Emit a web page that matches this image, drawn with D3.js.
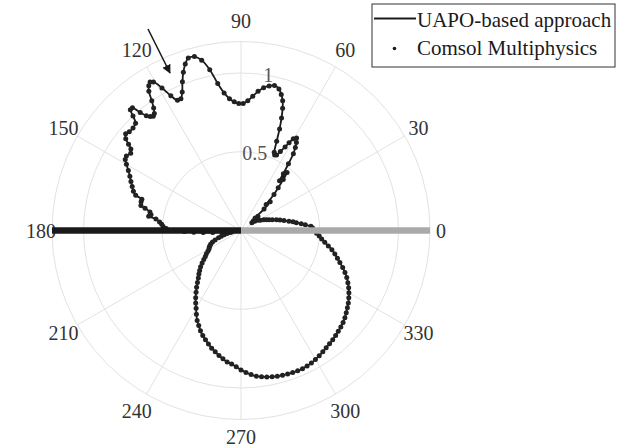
<!DOCTYPE html>
<html>
<head>
<meta charset="utf-8">
<script src="https://cdn.jsdelivr.net/npm/d3@7"></script>
<style>
  body { margin: 0; background: #fff; }
  text { font-family: "Liberation Serif", "Times New Roman", serif; }
</style>
</head>
<body>
<div id="polar"></div>
<script>
// angle (deg) and normalized amplitude
const thetaDeg = [
  0, 2, 3.5, 5, 6.5, 8, 9.5, 11, 13, 15, 17, 19, 21, 23, 25, 28, 31, 34, 36, 38,
  40, 41.5, 43, 44.5, 46, 47.5, 49, 50.3, 51.5, 52.3, 53.3, 54.6, 55.7, 56.8, 57.8, 59,
  60.3, 61.3, 62.2, 63.5, 64.8, 66, 67, 68.2, 69.2, 70.2, 71.2, 72.2, 73.5, 75, 77, 79,
  81, 83, 85, 87, 89, 91, 93, 95, 97, 99, 101, 103, 105, 107, 108.5, 110, 111.5, 113,
  114.5, 116, 117.5, 119, 120.5, 121.5, 122.5, 123.5, 124.5, 125.5, 126.5, 127.5, 128.5,
  129.5, 130.5, 131.5, 132.5, 133.3, 134.5, 136.5, 138.5, 140, 141.5, 142.5, 143.5, 145,
  147, 148.5, 150, 152, 154, 156, 158, 160, 161.5, 162.5, 164, 166, 167, 168.5, 170,
  171.3, 172.3, 174, 175.5, 177, 178.5, 180, 181, 182, 183, 184, 185.5, 187, 189,
  190, 192, 194, 196, 198, 200, 202, 204, 206, 208, 210, 212, 214, 216, 218, 220,
  222, 224, 226, 228, 230, 232, 234, 236, 238, 240, 242, 244, 246, 248, 250, 252,
  254, 256, 258, 260, 262, 264, 266, 268, 270, 272, 274, 276, 278, 280, 282, 284,
  286, 288, 290, 292, 294, 296, 298, 300, 302, 304, 306, 308, 310, 312, 314, 316,
  318, 320, 322, 324, 326, 328, 330, 332, 334, 336, 338, 340, 342, 344, 346, 348,
  350, 352, 354, 356, 358, 360
];
const uapo = [
  0.465, 0.455, 0.445, 0.41, 0.385, 0.355, 0.335, 0.31, 0.28, 0.256, 0.235, 0.21, 0.19, 0.175, 0.16, 0.14, 0.125, 0.105, 0.085, 0.1,
  0.14, 0.12, 0.2, 0.26, 0.23, 0.31, 0.36, 0.42, 0.47, 0.4, 0.45, 0.52, 0.59, 0.63, 0.66, 0.685,
  0.67, 0.635, 0.6, 0.56, 0.53, 0.525, 0.54, 0.61, 0.69, 0.76, 0.82, 0.865, 0.9, 0.93, 0.945, 0.935,
  0.918, 0.89, 0.855, 0.825, 0.807, 0.806, 0.818, 0.84, 0.88, 0.945, 1.04, 1.11, 1.143, 1.145, 1.115, 1.07, 1.015, 0.955,
  0.92, 0.92, 0.965, 1.035, 1.095, 1.105, 1.09, 1.06, 1.0, 0.955, 0.925, 0.915, 0.925,
  0.945, 0.985, 1.04, 1.04, 1.0, 0.955, 0.945, 0.947, 0.956, 0.935, 0.9, 0.87, 0.855,
  0.868, 0.862, 0.84, 0.81, 0.785, 0.765, 0.745, 0.727, 0.705, 0.66, 0.66, 0.655, 0.625, 0.59, 0.58,
  0.593, 0.545, 0.52, 0.505, 0.495, 0.475, 0.42, 0.36, 0.3, 0.24, 0.18, 0.12, 0.07, 0.06,
  0.07, 0.09, 0.11, 0.13, 0.15, 0.175, 0.195, 0.21, 0.22, 0.228, 0.235, 0.248, 0.265, 0.28, 0.3, 0.322,
  0.345, 0.365, 0.385, 0.405, 0.43, 0.458, 0.485, 0.515, 0.543, 0.57, 0.603, 0.635, 0.66, 0.687, 0.71, 0.73,
  0.75, 0.77, 0.787, 0.806, 0.823, 0.84, 0.85, 0.865, 0.885, 0.902, 0.917, 0.93, 0.938, 0.944, 0.95, 0.953,
  0.956, 0.958, 0.96, 0.961, 0.96, 0.957, 0.952, 0.945, 0.937, 0.929, 0.92, 0.913, 0.906, 0.898, 0.889, 0.881,
  0.872, 0.861, 0.848, 0.835, 0.822, 0.807, 0.791, 0.774, 0.755, 0.735, 0.712, 0.687, 0.66, 0.637, 0.614, 0.59,
  0.563, 0.537, 0.515, 0.498, 0.48, 0.465
];
// the full-wave reference points sit on the same curve
const comsol = uapo.slice();

const thetaTicks = [0, 30, 60, 90, 120, 150, 180, 210, 240, 270, 300, 330];
const rTicks = [0.5, 1];
const rMax = 1.2;
const legendLabels = ["UAPO-based approach", "Comsol Multiphysics"];

const width = 622, height = 448;
const cx = 241, cy = 230.5, R = 189;
const rad = Math.PI / 180;

const svg = d3.select("#polar").append("svg")
    .attr("width", width)
    .attr("height", height);

const r = d3.scaleLinear().domain([0, rMax]).range([0, R]);
const g = svg.append("g").attr("transform", `translate(${cx},${cy})`);

// grid
g.selectAll(".ring")
    .data(rTicks.concat([rMax]))
    .join("circle")
    .attr("class", "ring")
    .attr("r", d => r(d))
    .attr("fill", "none")
    .attr("stroke", "#e2e2e2")
    .attr("stroke-width", 1);

g.selectAll(".spoke")
    .data(thetaTicks)
    .join("line")
    .attr("class", "spoke")
    .attr("x1", 0).attr("y1", 0)
    .attr("x2", d => R * Math.cos(d * rad))
    .attr("y2", d => -R * Math.sin(d * rad))
    .attr("stroke", "#e2e2e2")
    .attr("stroke-width", 1);

// angle labels, a little further out at top and bottom
const labelDist = d => 200 + 10 * Math.abs(Math.sin(d * rad));
g.selectAll(".tlabel")
    .data(thetaTicks)
    .join("text")
    .attr("class", "tlabel")
    .attr("x", d => labelDist(d) * Math.cos(d * rad))
    .attr("y", d => Math.min(-labelDist(d) * Math.sin(d * rad), height - cy - 11))
    .attr("text-anchor", "middle")
    .attr("dominant-baseline", "central")
    .attr("font-size", 20)
    .attr("fill", "#333")
    .text(d => d);

// radial labels at 80 deg
g.selectAll(".rlabel")
    .data(rTicks)
    .join("text")
    .attr("class", "rlabel")
    .attr("x", d => r(d) * Math.cos(80 * rad))
    .attr("y", d => -r(d) * Math.sin(80 * rad))
    .attr("text-anchor", "middle")
    .attr("dominant-baseline", "central")
    .attr("font-size", 20)
    .attr("fill", "#555")
    .text(d => d);

const pts = thetaDeg.map((t, i) => ({ t: t, v: uapo[i] }));
const dots = thetaDeg.map((t, i) => ({ t: t, v: comsol[i] }));

const radial = d3.lineRadial()
    .angle(d => (90 - d.t) * rad)
    .radius(d => r(d.v))
    .curve(d3.curveCatmullRom);

g.append("path")
    .datum(pts)
    .attr("d", radial)
    .attr("fill", "none")
    .attr("stroke", "#1a1a1a")
    .attr("stroke-width", 1.8);

g.selectAll(".dot")
    .data(dots)
    .join("circle")
    .attr("class", "dot")
    .attr("cx", d => d3.pointRadial((90 - d.t) * rad, r(d.v))[0])
    .attr("cy", d => d3.pointRadial((90 - d.t) * rad, r(d.v))[1])
    .attr("r", 2.5)
    .attr("fill", "#222");

// screen: dark half on the left, grey half on the right
g.append("line")
    .attr("x1", -R).attr("y1", 0).attr("x2", 0).attr("y2", 0)
    .attr("stroke", "#1a1a1a").attr("stroke-width", 6.5);
g.append("line")
    .attr("x1", 0).attr("y1", 0).attr("x2", R).attr("y2", 0)
    .attr("stroke", "#aaaaaa").attr("stroke-width", 6.5);

// arrow annotation
svg.append("defs").append("marker")
    .attr("id", "head")
    .attr("viewBox", "0 0 10 10")
    .attr("refX", 9).attr("refY", 5)
    .attr("markerWidth", 9).attr("markerHeight", 9)
    .attr("markerUnits", "userSpaceOnUse")
    .attr("orient", "auto")
    .append("path")
    .attr("d", "M0,0 L10,5 L0,10 Z")
    .attr("fill", "#1a1a1a");

svg.append("line")
    .attr("x1", 148).attr("y1", 29)
    .attr("x2", 170).attr("y2", 73)
    .attr("stroke", "#1a1a1a")
    .attr("stroke-width", 1.5)
    .attr("marker-end", "url(#head)");

// legend
const lg = svg.append("g");
lg.append("rect")
    .attr("x", 372).attr("y", 4)
    .attr("width", 243).attr("height", 63)
    .attr("fill", "#fff")
    .attr("stroke", "#333")
    .attr("stroke-width", 1);
lg.append("line")
    .attr("x1", 374).attr("y1", 18.5).attr("x2", 416).attr("y2", 18.5)
    .attr("stroke", "#1a1a1a").attr("stroke-width", 2);
lg.append("circle")
    .attr("cx", 394.5).attr("cy", 48.5).attr("r", 1.8)
    .attr("fill", "#1a1a1a");
lg.selectAll(".ltext")
    .data(legendLabels)
    .join("text")
    .attr("class", "ltext")
    .attr("x", 417)
    .attr("y", (d, i) => 27 + i * 28)
    .attr("font-size", 21)
    .attr("fill", "#1a1a1a")
    .text(d => d);
</script>
</body>
</html>
